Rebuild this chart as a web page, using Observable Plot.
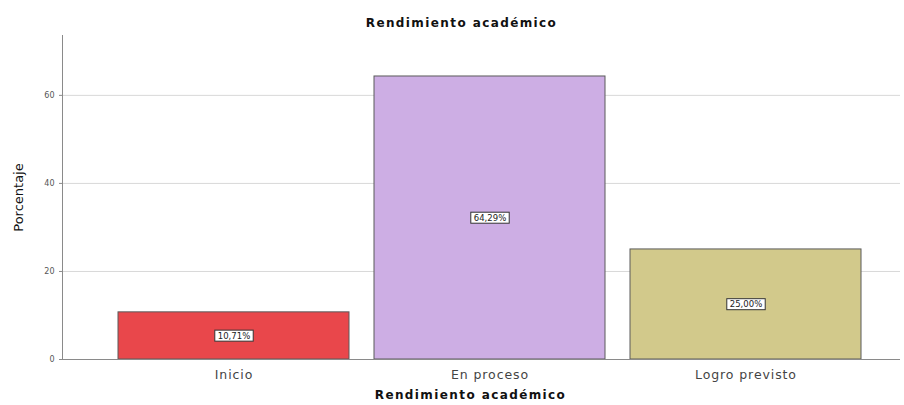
<!DOCTYPE html>
<html>
<head>
<meta charset="utf-8">
<script src="https://cdn.jsdelivr.net/npm/d3@7"></script>
<script src="https://cdn.jsdelivr.net/npm/@observablehq/plot@0.6"></script>
<style>
  html, body { margin: 0; padding: 0; background: #fff; }
  svg { display: block; }
</style>
</head>
<body>
<div id="chart"></div>
<script>
const categories = ["Inicio", "En proceso", "Logro previsto"];
const values = [10.71, 64.29, 25.00];
const colors = ["#e9474b", "#cdaee4", "#d2c98b"];
const yTicks = [0, 20, 40, 60];
const title = "Rendimiento académico";
const xLabel = "Rendimiento académico";
const yLabel = "Porcentaje";

const data = categories.map((c, i) => ({category: c, value: values[i], color: colors[i]}));
const fmt = v => v.toFixed(2).replace(".", ",") + "%";

const chart = Plot.plot({
  width: 904,
  height: 405,
  marginTop: 35,
  marginBottom: 46,
  marginLeft: 62,
  marginRight: 4,
  style: {fontFamily: "'DejaVu Sans', 'Liberation Sans', Arial, sans-serif", background: "#fff"},
  x: {domain: categories, paddingInner: 0.097, paddingOuter: 0.179, align: 0.59, label: null},
  y: {domain: [0, 73.6], label: null},
  marks: [
    Plot.gridY(yTicks.filter(t => t > 0), {stroke: "#d8d8d8", strokeOpacity: 1}),
    Plot.barY(data, {x: "category", y: "value", fill: "color", stroke: "#5a5a5a", strokeWidth: 1}),
    Plot.ruleY([0], {stroke: "#8a8a8a"}),
    Plot.frame({anchor: "left", stroke: "#8a8a8a"}),
    Plot.axisY({ticks: yTicks, tickSize: 3, tickPadding: 5, fontSize: 8, fill: "#555", label: null, stroke: "#8a8a8a"}),
    Plot.axisX({tickSize: 0, tickPadding: 11, fontSize: 12.5, fill: "#444", label: null, className: "xt"}),
    Plot.text(data, {x: "category", y: d => d.value / 2, text: d => fmt(d.value), fontSize: 8.5, fill: "#222", className: "lbl"}),
    Plot.text([title], {frameAnchor: "top", dy: -17, dx: -20, fontSize: 12, fontWeight: "bold", fill: "#111", className: "ttl"}),
    Plot.text([xLabel], {frameAnchor: "bottom", dy: 39, dx: -11, fontSize: 12, fontWeight: "bold", fill: "#111", className: "ttl"}),
    Plot.text([yLabel], {frameAnchor: "left", textAnchor: "middle", dx: -44, rotate: -90, fontSize: 13, fill: "#111"})
  ]
});
document.getElementById("chart").append(chart);

d3.select(chart).selectAll("g.ttl text").style("letter-spacing", "1.4px");
d3.select(chart).selectAll("g.xt text").style("letter-spacing", "0.9px");

// white boxes behind the percentage labels
d3.select(chart).selectAll("g.lbl text").each(function() {
  const bb = this.getBBox();
  const r = d3.select(this.parentNode).insert("rect", () => this)
    .attr("x", bb.x - 3).attr("y", bb.y - 0.5)
    .attr("width", bb.width + 6).attr("height", bb.height + 1)
    .attr("fill", "#fff").attr("stroke", "#333").attr("stroke-width", 1);
  const t = this.getAttribute("transform");
  if (t) r.attr("transform", t);
});
</script>
</body>
</html>
